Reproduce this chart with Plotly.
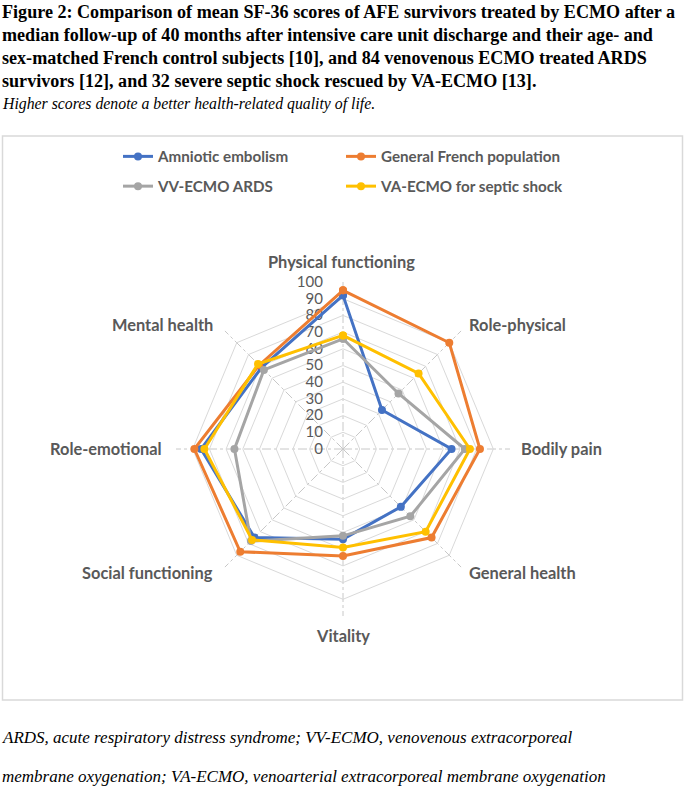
import plotly.graph_objects as go

categories = ["Physical functioning", "Role-physical", "Bodily pain", "General health",
              "Vitality", "Social functioning", "Role-emotional", "Mental health"]
amniotic = [92, 33, 65, 49, 54, 75, 85, 69]
french = [95, 90, 82, 75, 64, 87, 89, 71]
vv_ecmo = [66, 47, 73, 57, 52, 78, 65, 67]
va_ecmo = [68, 64, 76, 70, 59, 77, 83, 72]
radial_ticks = [0, 10, 20, 30, 40, 50, 60, 70, 80, 90, 100]

series = [
    ("Amniotic embolism", amniotic, "#4472C4", "legend", "g1"),
    ("General French population", french, "#ED7D31", "legend2", "g2"),
    ("VV-ECMO ARDS", vv_ecmo, "#A5A5A5", "legend", "g3"),
    ("VA-ECMO for septic shock", va_ecmo, "#FFC000", "legend2", "g4"),
]

W, H = 685, 788
cx, cy, R = 343, 449, 167

# category label placement (pixel x, pixel y, xanchor) — layout only
label_pos = [
    (341, 261, "center"), (467, 324, "left"), (519, 448, "left"), (467, 572, "left"),
    (343, 635, "center"), (215, 572, "right"), (164, 448, "right"), (215, 324, "right"),
]

FS = "\u2007"  # figure space, same width as a digit
tick_text = [str(v) + FS * 2 for v in radial_ticks]

fig = go.Figure()
for name, vals, col, leg, grp in series:
    fig.add_trace(go.Scatterpolar(
        r=vals + vals[:1], theta=categories + categories[:1],
        mode="lines+markers", name=name,
        line=dict(color=col, width=3),
        marker=dict(color=col, size=8),
        legend=leg, legendgroup=grp,
    ))

legfont = dict(family="Lato", size=15.2, color="#595959", weight="bold")
fig.update_layout(
    width=W, height=H,
    margin=dict(l=0, r=0, t=0, b=0),
    paper_bgcolor="white", plot_bgcolor="white",
    polar=dict(
        domain=dict(x=[(cx - R) / W, (cx + R) / W], y=[1 - (cy + R) / H, 1 - (cy - R) / H]),
        bgcolor="white",
        gridshape="linear",
        angularaxis=dict(
            rotation=90, direction="clockwise",
            showline=False, gridcolor="#C8C8C8", griddash="dashdot", gridwidth=1,
            ticks="", showticklabels=False,
        ),
        radialaxis=dict(
            range=[0, 100], tickvals=radial_ticks, ticktext=tick_text, angle=90, tickangle=90,
            side="counterclockwise", showline=False, ticks="",
            gridcolor="#D9D9D9", gridwidth=1, layer="below traces",
            tickfont=dict(family="Lato", size=15, color="#595959"),
        ),
    ),
    legend=dict(x=118 / W, y=1 - 140 / H, xanchor="left", yanchor="top",
                orientation="v", font=legfont, tracegroupgap=7, bgcolor="rgba(0,0,0,0)"),
    legend2=dict(x=341 / W, y=1 - 140 / H, xanchor="left", yanchor="top",
                 orientation="v", font=legfont, tracegroupgap=7, bgcolor="rgba(0,0,0,0)"),
    shapes=[dict(type="rect", xref="paper", yref="paper",
                 x0=2.5 / W, x1=682.5 / W, y0=1 - 700 / H, y1=1 - 136 / H,
                 line=dict(color="#D9D9D9", width=1.5), layer="below")],
)

for cat, (px, py, xa) in zip(categories, label_pos):
    fig.add_annotation(text=cat, xref="paper", yref="paper", x=px / W, y=1 - py / H,
                       xanchor=xa, yanchor="middle", showarrow=False,
                       font=dict(family="Lato", size=16.4, color="#595959", weight="bold"))

title_lines = [
    ("Figure 2: Comparison of mean SF-36 scores of AFE survivors treated by ECMO after a", 12, "bold", "normal", 18.1),
    ("median follow-up of 40 months after intensive care unit discharge and their age- and", 35, "bold", "normal", 18.1),
    ("sex-matched French control subjects [10], and 84 venovenous ECMO treated ARDS", 58, "bold", "normal", 18.1),
    ("survivors [12], and 32 severe septic shock rescued by VA-ECMO [13].", 81, "bold", "normal", 18.1),
    ("Higher scores denote a better health-related quality of life.", 104, "normal", "italic", 15.8),
    ("ARDS, acute respiratory distress syndrome; VV-ECMO, venovenous extracorporeal", 737, "normal", "italic", 17),
    ("membrane oxygenation; VA-ECMO, venoarterial extracorporeal membrane oxygenation", 776, "normal", "italic", 17),
]
for txt, y, wt, st, sz in title_lines:
    fig.add_annotation(text=txt, xref="paper", yref="paper", x=0, y=1 - y / H,
                       xanchor="left", yanchor="middle", showarrow=False,
                       font=dict(family="Liberation Serif", size=sz, color="black", weight=wt, style=st))

fig.write_html("out.html", config={"displayModeBar": False},
               post_script="document.body.style.margin='0';document.body.style.overflow='hidden';")
